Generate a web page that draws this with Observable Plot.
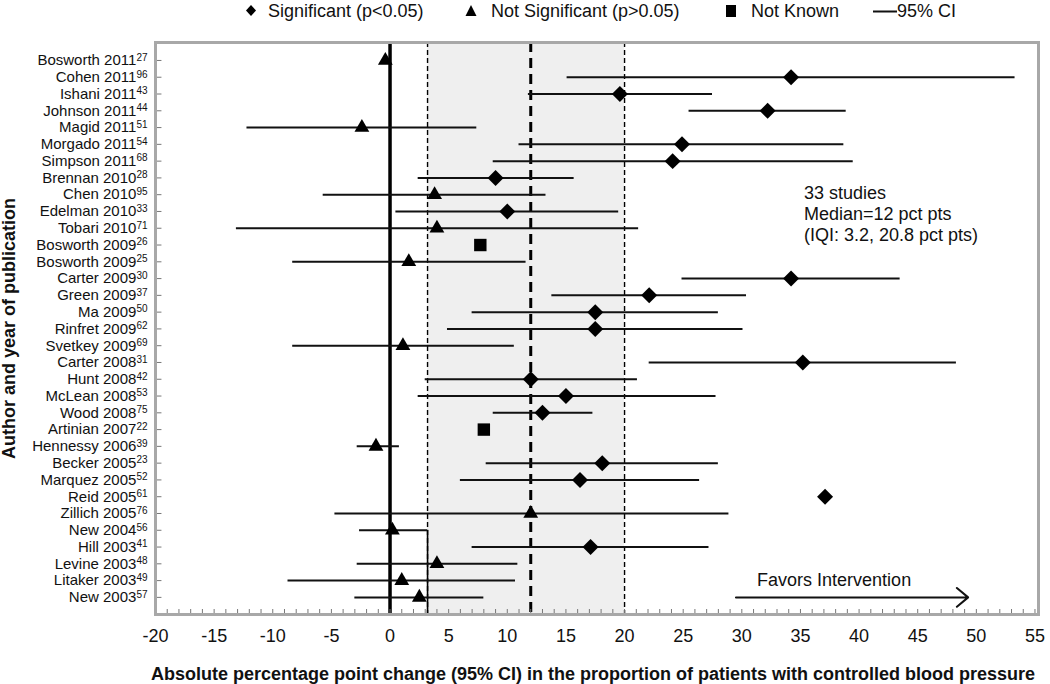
<!DOCTYPE html>
<html><head><meta charset="utf-8">
<script src="https://cdn.jsdelivr.net/npm/d3@7"></script>
<script src="https://cdn.jsdelivr.net/npm/@observablehq/plot@0.6"></script>
<style>
body{margin:0;background:#fff;font-family:"Liberation Sans",Arial,sans-serif;}
#wrap{position:relative;width:1050px;height:684px;overflow:hidden;}
#legend{position:absolute;top:0;left:0;width:1050px;height:24px;font-size:18px;line-height:22px;color:#111;}
#legend span,#legend svg{position:absolute;top:0;}
#chart{position:absolute;top:0;left:0;}
</style></head>
<body><div id="wrap"><div id="chart"></div><div id="legend"></div></div>
<script>
// ---- data ----
const authors = ["Bosworth 2011","Cohen 2011","Ishani 2011","Johnson 2011","Magid 2011","Morgado 2011","Simpson 2011","Brennan 2010","Chen 2010","Edelman 2010","Tobari 2010","Bosworth 2009","Bosworth 2009","Carter 2009","Green 2009","Ma 2009","Rinfret 2009","Svetkey 2009","Carter 2008","Hunt 2008","McLean 2008","Wood 2008","Artinian 2007","Hennessy 2006","Becker 2005","Marquez 2005","Reid 2005","Zillich 2005","New 2004","Hill 2003","Levine 2003","Litaker 2003","New 2003"];
const refs = ["27","96","43","44","51","54","68","28","95","33","71","26","25","30","37","50","62","69","31","42","53","75","22","39","23","52","61","76","56","41","48","49","57"];
const estimate = [-0.4,34.2,19.6,32.2,-2.4,24.9,24.1,9.0,3.8,10.0,4.0,7.7,1.6,34.2,22.1,17.5,17.5,1.1,35.2,12.0,15.0,13.0,8.0,-1.2,18.1,16.2,37.1,12.0,0.2,17.1,4.0,1.0,2.5];
const ciLow  = [null,15.1,11.8,25.5,-12.2,11.0,8.8,2.4,-5.7,0.5,-13.1,null,-8.3,24.9,13.8,7.0,4.9,-8.3,22.1,3.0,2.4,8.8,null,-2.8,8.2,6.0,null,-4.7,-2.6,7.0,-2.8,-8.7,-3.0];
const ciHigh = [null,53.3,27.5,38.9,7.4,38.7,39.5,15.7,13.3,19.5,21.2,null,11.6,43.5,30.4,28.0,30.1,10.6,48.3,21.1,27.8,17.3,null,0.8,28.0,26.4,null,28.9,3.2,27.2,10.9,10.7,8.0];
const significance = ["N","S","S","S","N","S","S","S","N","S","N","U","N","S","S","S","S","N","S","S","S","S","U","N","S","S","S","N","N","S","N","N","N"];
const medianValue = 12;
const iqrBounds = [3.2, 20];
const solidSegment = {x:3.2, fromRow:28};
const xTicks = [-20,-15,-10,-5,0,5,10,15,20,25,30,35,40,45,50,55];
const annotation = "33 studies\nMedian=12 pct pts\n(IQI: 3.2, 20.8 pct pts)";
const arrowSpan = [29.5, 49.3];
const favorsX = 31.3;
const annotX = 35.3;
const xTitle = "Absolute percentage point change (95% CI) in the proportion of patients with controlled blood pressure";
const yTitle = "Author and year of publication";

const rowIndex = authors.map((_, i) => i);
const rows = rowIndex.map(i=>({row:i, est:estimate[i], lo:ciLow[i], hi:ciHigh[i], sig:significance[i]}));
const ciRows = rows.filter(d=>d.lo!=null);

const W=1050,H=684,mT=42,mB=70,mL=155,mR=12;
const plotH = H-mT-mB;
const yDomain = [-1.07, 33.02];
const font = "'Liberation Sans', Arial, sans-serif";

const chart = Plot.plot({
  width:W, height:H, marginTop:mT, marginBottom:mB, marginLeft:mL, marginRight:mR,
  style:{fontFamily:font, fontSize:"15px", color:"#111", background:"#fff"},
  x:{domain:[-20,55.3]},
  y:{domain:yDomain, reverse:true},
  marks:[
    Plot.rect([iqrBounds], {x1:d=>d[0], x2:d=>d[1], fill:"#efefef"}),
    Plot.ruleX([0], {stroke:"#000", strokeWidth:3.5}),
    Plot.ruleX(iqrBounds, {stroke:"#000", strokeWidth:1.4, strokeDasharray:"5,3"}),
    Plot.ruleX([solidSegment], {x:"x", y1:"fromRow", y2:()=>yDomain[1], stroke:"#000", strokeWidth:1.6}),
    Plot.ruleX([medianValue], {stroke:"#000", strokeWidth:3, strokeDasharray:"10,6"}),
    Plot.ruleY(ciRows, {y:"row", x1:"lo", x2:"hi", stroke:"#111", strokeWidth:2}),
    Plot.dot(rows.filter(d=>d.sig==="S"), {x:"est", y:"row", symbol:"diamond2", r:7.2, fill:"#000", stroke:"none"}),
    Plot.dot(rows.filter(d=>d.sig==="N"), {x:"est", y:"row", symbol:"triangle", r:5.5, fill:"#000", stroke:"none"}),
    Plot.dot(rows.filter(d=>d.sig==="U"), {x:"est", y:"row", symbol:"square", r:7, fill:"#000", stroke:"none"}),
    Plot.ruleY(rowIndex, {y:d=>d, x1:-20, x2:-19.45, stroke:"#777", strokeWidth:1}),
    Plot.ruleX(d3.range(-20,56), {x:d=>d, insetTop:plotH-5, stroke:"#777", strokeWidth:1}),
    Plot.frame({stroke:"#a8a8a8", strokeWidth:3}),
    Plot.axisX(xTicks, {tickSize:0, tickPadding:15, fontSize:18, label:null, tickFormat:d=>`${d}`}),
    Plot.axisY(rowIndex, {tickSize:0, tickPadding:8, fontSize:15, label:null, tickFormat:i=>authors[i]+"|"+refs[i]}),
    Plot.text([annotation], {x:annotX, y:()=>9, text:d=>d, textAnchor:"start", lineAnchor:"middle", lineHeight:1.16, fontSize:18, dy:2, fill:"#111"}),
    Plot.text(["Favors Intervention"], {x:favorsX, y:()=>31, text:d=>d, textAnchor:"start", fontSize:18, fill:"#111"}),
    Plot.arrow([arrowSpan], {x1:d=>d[0], x2:d=>d[1], y1:()=>32, y2:()=>32, stroke:"#111", strokeWidth:2, headLength:11, headAngle:80}),
    Plot.text([xTitle], {frameAnchor:"bottom", text:d=>d, dy:60, dx:-4, lineAnchor:"middle", textAnchor:"middle", fontSize:18, fontWeight:"bold", fill:"#111"}),
    Plot.text([yTitle], {frameAnchor:"left", text:d=>d, dx:-146, rotate:-90, textAnchor:"middle", lineAnchor:"middle", fontSize:18, fontWeight:"bold", fill:"#111"})
  ]
});
document.getElementById("chart").appendChild(chart);

// superscript reference numbers on the y tick labels
chart.querySelectorAll('g[aria-label="y-axis tick label"] text').forEach(t=>{
  const [name, ref] = t.textContent.split("|");
  if (ref === undefined) return;
  t.textContent = "";
  const ns = "http://www.w3.org/2000/svg";
  const a = document.createElementNS(ns,"tspan"); a.textContent = name; t.appendChild(a);
  const b = document.createElementNS(ns,"tspan"); b.textContent = ref; b.setAttribute("dy","-0.45em"); b.setAttribute("font-size","10"); t.appendChild(b);
});

// legend
const legendItems = [
  {sym:"diamond", sx:251, tx:268, label:"Significant (p<0.05)"},
  {sym:"triangle", sx:471, tx:491, label:"Not Significant (p>0.05)"},
  {sym:"square", sx:731, tx:751, label:"Not Known"},
  {sym:"line", sx:885, tx:897, label:"95% CI"}
];
const lg = document.getElementById("legend");
legendItems.forEach(it=>{
  let svg;
  if (it.sym==="line") {
    svg = `<svg width="24" height="22" style="left:${it.sx-12}px"><line x1="0" x2="24" y1="11.5" y2="11.5" stroke="#111" stroke-width="2"/></svg>`;
  } else if (it.sym==="diamond") {
    svg = `<svg width="14" height="22" style="left:${it.sx-7}px"><path d="M7,5 L12,10.5 L7,16 L2,10.5Z" fill="#000"/></svg>`;
  } else if (it.sym==="triangle") {
    svg = `<svg width="14" height="22" style="left:${it.sx-7}px"><path d="M7,5 L12.5,16 L1.5,16Z" fill="#000"/></svg>`;
  } else {
    svg = `<svg width="14" height="22" style="left:${it.sx-7}px"><rect x="2" y="5" width="10" height="12" fill="#000"/></svg>`;
  }
  lg.insertAdjacentHTML("beforeend", svg + `<span style="left:${it.tx}px">${it.label.replace("<","&lt;").replace(">","&gt;")}</span>`);
});
</script>
</body></html>
